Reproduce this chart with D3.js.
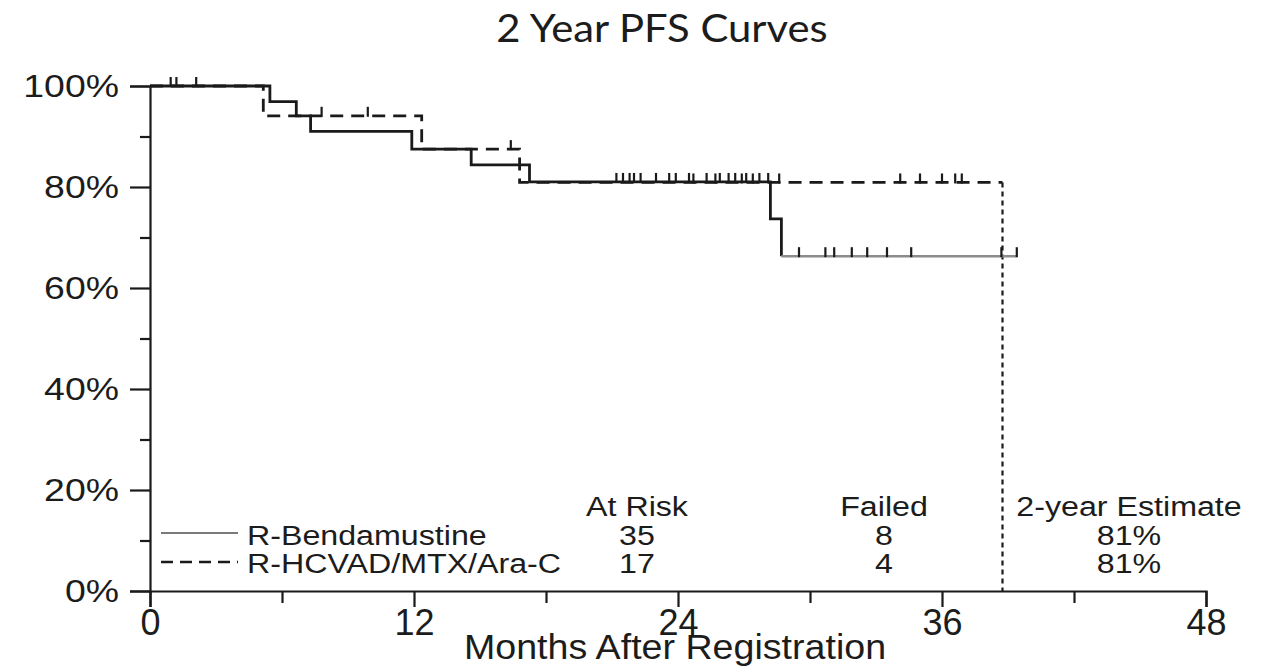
<!DOCTYPE html>
<html>
<head>
<meta charset="utf-8">
<script src="https://cdn.jsdelivr.net/npm/d3@7"></script>
<style>
  html, body { margin: 0; padding: 0; background: #fff; }
  svg { display: block; }
</style>
</head>
<body>
<svg id="chart" width="1266" height="666"></svg>
<script>
// Kaplan-Meier step points (months, % progression-free)
const benTimes = [0, 5.45, 6.65, 7.3, 11.9, 14.6, 17.25, 28.2, 28.7];
const benSurv  = [100, 96.9, 94.1, 91.0, 87.5, 84.4, 81.0, 73.7, 66.3];
const benEnd   = 39.4;
const benCensor = [1.2, 2.1, 21.2, 21.5, 21.8, 22.0, 22.3, 23.0, 23.6, 23.9, 24.5, 25.3,
                   25.9, 26.3, 26.6, 27.1, 27.7, 28.1, 29.5, 30.7, 31.1, 31.9, 32.6,
                   33.5, 34.6, 38.7, 39.4];

const hcTimes = [0, 5.15, 12.35, 16.8, 38.75];
const hcSurv  = [100, 94.1, 87.5, 80.9, 0];
const hcEnd   = 38.75;
const hcCensor = [0.94, 7.8, 9.9, 16.4, 24.7, 25.7, 26.9, 27.4, 28.6, 34.1, 35.0,
                  36.0, 36.6, 36.9];

const xMajor = [0, 12, 24, 36, 48];
const xMinor = [6, 18, 30, 42];
const yMajor = [0, 20, 40, 60, 80, 100];
const yMinor = [10, 30, 50, 70, 90];

const groups   = ["R-Bendamustine", "R-HCVAD/MTX/Ara-C"];
const atRisk   = [35, 17];
const failed   = [8, 4];
const estimate = ["81%", "81%"];

const SANS = "'Liberation Sans', Arial, sans-serif";
const INK = "#1c1c1c";

const svg = d3.select("#chart");

const x = d3.scaleLinear().domain([0, 48]).range([150, 1206]);
const y = d3.scaleLinear().domain([0, 100]).range([591, 86]);

// Horizontally widened text label
function label(parent, px, py, txt, size, sx, anchor, family) {
  return parent.append("text")
    .attr("transform", `translate(${px},${py}) scale(${sx},1)`)
    .attr("text-anchor", anchor || "start")
    .style("font-family", family || SANS)
    .style("font-size", size + "px")
    .attr("fill", INK)
    .text(txt);
}

// Title
label(svg, 662, 42, "2 Year PFS Curves", 38, 1.1, "middle", "Lato, 'Open Sans', sans-serif");

// Y axis: major ticks with labels, minor ticks without
const yAxis = svg.append("g").attr("transform", `translate(${x(0)},0)`)
  .call(d3.axisLeft(y).tickValues(yMajor).tickSize(20).tickPadding(13)
        .tickFormat(d => d + "%"));
svg.append("g").attr("transform", `translate(${x(0)},0)`)
  .call(d3.axisLeft(y).tickValues(yMinor).tickSize(10).tickFormat(""))
  .select(".domain").remove();
yAxis.selectAll(".tick text")
  .attr("x", null)
  .attr("transform", "translate(-31,0) scale(1.17,1)")
  .style("font-size", "32px").style("font-family", SANS).attr("fill", INK);

// X axis
const xAxis = svg.append("g").attr("transform", `translate(0,${y(0)})`)
  .call(d3.axisBottom(x).tickValues(xMajor).tickSize(16).tickPadding(2));
svg.append("g").attr("transform", `translate(0,${y(0)})`)
  .call(d3.axisBottom(x).tickValues(xMinor).tickSize(12).tickFormat(""))
  .select(".domain").remove();
xAxis.selectAll(".tick text")
  .style("font-size", "36px").style("font-family", SANS).attr("fill", INK);

svg.selectAll(".domain, .tick line").attr("stroke", "#1a1a1a").attr("stroke-width", 2.2);

// X axis title
label(svg, 675, 659, "Months After Registration", 36, 1.045, "middle");

// Step path builder
function stepPoints(times, surv, end) {
  const pts = [];
  for (let i = 0; i < times.length; i++) {
    if (i > 0) pts.push([times[i], surv[i - 1]]);
    pts.push([times[i], surv[i]]);
  }
  if (end > times[times.length - 1]) pts.push([end, surv[surv.length - 1]]);
  return pts;
}
const line = d3.line().x(d => x(d[0])).y(d => y(d[1]));

function survAt(times, surv, t) {
  let s = surv[0];
  for (let i = 0; i < times.length; i++) if (times[i] <= t) s = surv[i];
  return s;
}

const plot = svg.append("g");

// R-HCVAD/MTX/Ara-C: dashed
const hcPts = stepPoints(hcTimes, hcSurv, hcEnd);
plot.append("path")
  .attr("d", line(hcPts.slice(0, hcPts.length - 1)))
  .attr("fill", "none").attr("stroke", "#1a1a1a")
  .attr("stroke-width", 2.8).attr("stroke-dasharray", "13,8");
// final drop to zero drawn with short dashes
plot.append("path")
  .attr("d", line(hcPts.slice(hcPts.length - 2)))
  .attr("fill", "none").attr("stroke", "#1a1a1a")
  .attr("stroke-width", 2.2).attr("stroke-dasharray", "5,4");

// R-Bendamustine: solid, tail after last event in lighter grey
const lastEvt = benTimes[benTimes.length - 1];
const lastSurv = benSurv[benSurv.length - 1];
const benPts = stepPoints(benTimes, benSurv, benEnd);
plot.append("path")
  .attr("d", line(benPts.filter(p => p[0] <= lastEvt)))
  .attr("fill", "none").attr("stroke", "#1a1a1a").attr("stroke-width", 2.8);
plot.append("path")
  .attr("d", line([[lastEvt, lastSurv], [benEnd, lastSurv]]))
  .attr("fill", "none").attr("stroke", "#8c8c8c").attr("stroke-width", 2.4);

// Censoring marks
function censorMarks(list, times, surv, color) {
  plot.selectAll(null).data(list).enter().append("line")
    .attr("x1", d => x(d)).attr("x2", d => x(d))
    .attr("y1", d => y(survAt(times, surv, d)) - 9)
    .attr("y2", d => y(survAt(times, surv, d)) + 1)
    .attr("stroke", color).attr("stroke-width", 2.2);
}
censorMarks(benCensor, benTimes, benSurv, "#1a1a1a");
censorMarks(hcCensor, hcTimes, hcSurv, "#1a1a1a");

// Legend table
const lg = svg.append("g");
const rowY = [545, 573];
const headY = 516;
const LS = 28, LX = 1.15;
const cols = [
  { x: 637, head: "At Risk", vals: atRisk },
  { x: 884, head: "Failed", vals: failed },
  { x: 1129, head: "2-year Estimate", vals: estimate }
];
cols.forEach(c => {
  label(lg, c.x, headY, c.head, LS, LX, "middle");
  c.vals.forEach((v, i) => label(lg, c.x, rowY[i], v, LS, LX, "middle"));
});
groups.forEach((g, i) => label(lg, 247, rowY[i], g, LS, LX, "start"));
lg.append("line").attr("x1", 161).attr("x2", 238).attr("y1", 533).attr("y2", 533)
  .attr("stroke", "#7a7a7a").attr("stroke-width", 2);
lg.append("line").attr("x1", 161).attr("x2", 238).attr("y1", 562).attr("y2", 562)
  .attr("stroke", "#1a1a1a").attr("stroke-width", 2.4).attr("stroke-dasharray", "12,7");
</script>
</body>
</html>
